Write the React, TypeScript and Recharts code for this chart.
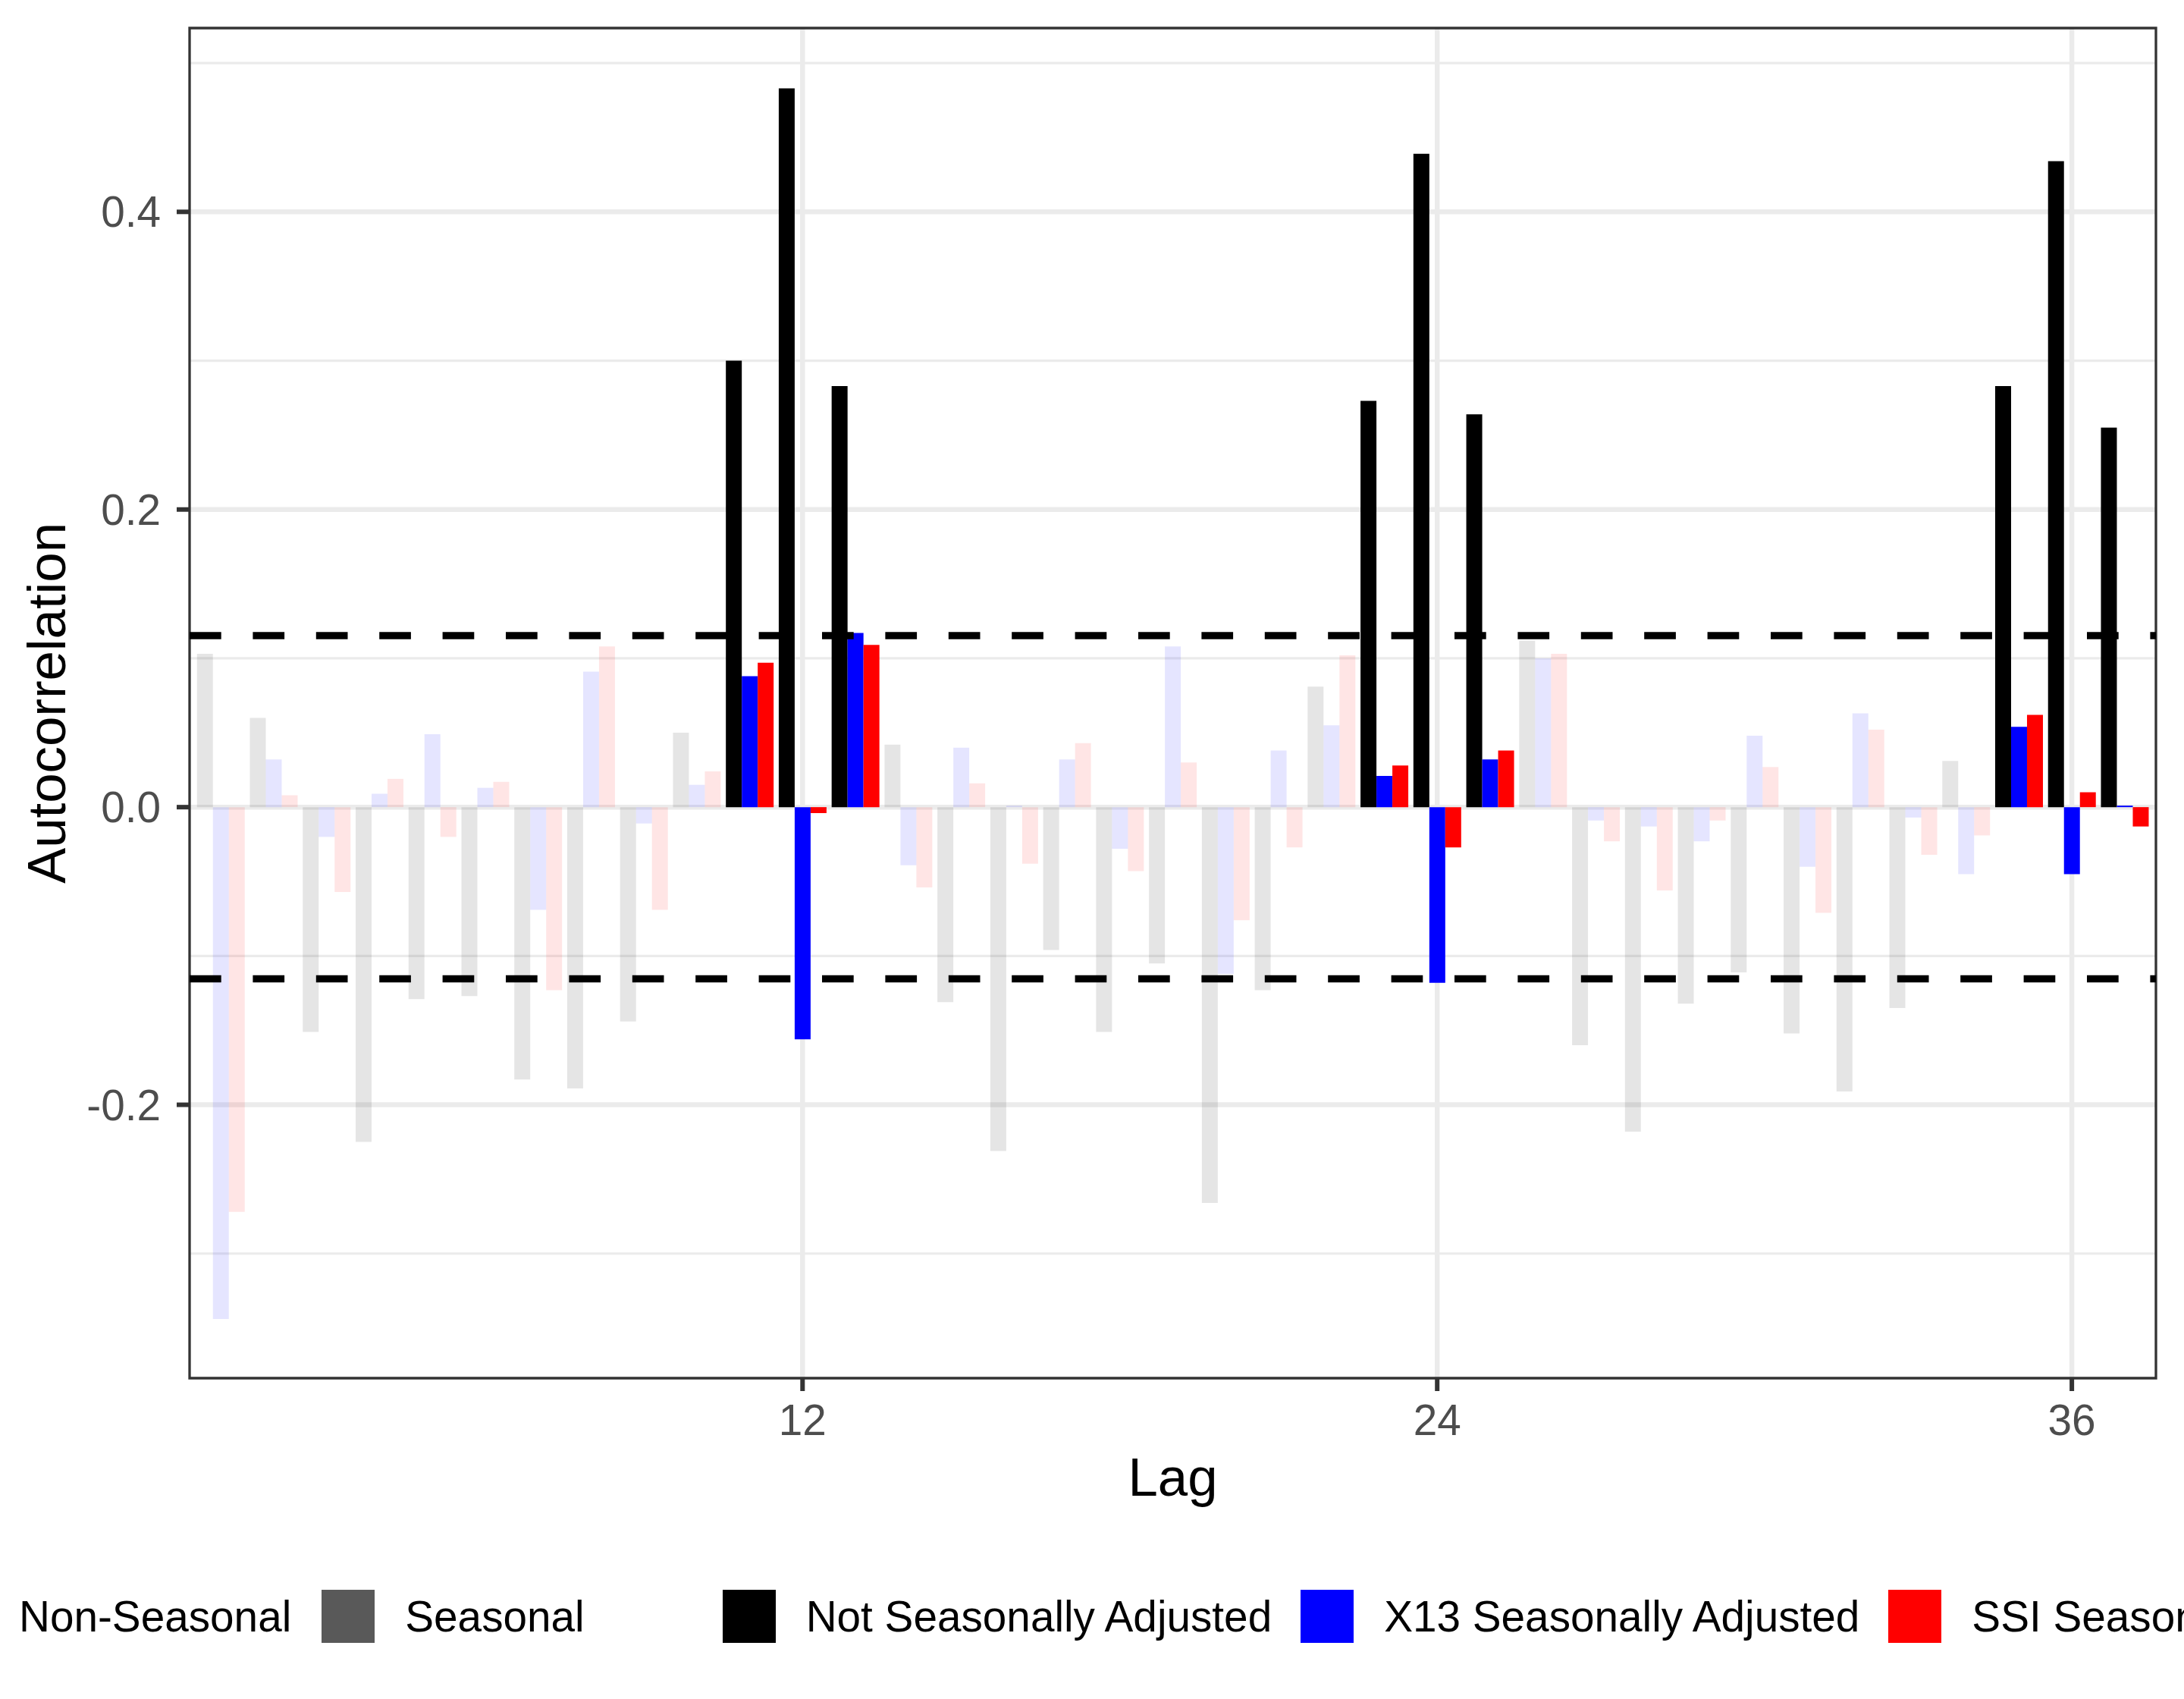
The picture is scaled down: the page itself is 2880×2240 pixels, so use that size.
import {
  Bar,
  BarChart,
  CartesianGrid,
  Cell,
  ReferenceArea,
  ReferenceLine,
  XAxis,
  YAxis,
} from "recharts";

// lags 1..37, three ACF series
const LAGS = [
  1, 2, 3, 4, 5, 6, 7, 8, 9, 10, 11, 12, 13, 14, 15, 16, 17, 18, 19, 20, 21,
  22, 23, 24, 25, 26, 27, 28, 29, 30, 31, 32, 33, 34, 35, 36, 37,
];
const SEASONAL_LAGS = [11, 12, 13, 23, 24, 25, 35, 36, 37];

const NSA = [
  0.103, 0.06, -0.151, -0.225, -0.129, -0.127, -0.183, -0.189, -0.144, 0.05,
  0.3, 0.483, 0.283, 0.042, -0.131, -0.231, -0.096, -0.151, -0.105, -0.266,
  -0.123, 0.081, 0.273, 0.439, 0.264, 0.112, -0.16, -0.218, -0.132, -0.111,
  -0.152, -0.191, -0.135, 0.031, 0.283, 0.434, 0.255,
];
const X13 = [
  -0.344, 0.032, -0.02, 0.009, 0.049, 0.013, -0.069, 0.091, -0.011, 0.015,
  0.088, -0.156, 0.117, -0.039, 0.04, 0.001, 0.032, -0.028, 0.108, -0.112,
  0.038, 0.055, 0.021, -0.118, 0.032, 0.1, -0.009, -0.013, -0.023, 0.048,
  -0.04, 0.063, -0.007, -0.045, 0.054, -0.045, 0.001,
];
const SSI = [
  -0.272, 0.008, -0.057, 0.019, -0.02, 0.017, -0.123, 0.108, -0.069, 0.024,
  0.097, -0.004, 0.109, -0.054, 0.016, -0.038, 0.043, -0.043, 0.03, -0.076,
  -0.027, 0.102, 0.028, -0.027, 0.038, 0.103, -0.023, -0.056, -0.009, 0.027,
  -0.071, 0.052, -0.032, -0.019, 0.062, 0.01, -0.013,
];

const CI = 0.1153;

const SERIES = [
  { key: "nsa", name: "Not Seasonally Adjusted", color: "#000000" },
  { key: "x13", name: "X13 Seasonally Adjusted", color: "#0000ff" },
  { key: "ssi", name: "SSI Seasonally Adjusted", color: "#ff0000" },
];

const X_TICKS = [12, 24, 36];
const Y_TICKS = [-0.2, 0, 0.2, 0.4];
const Y_MINOR = [-0.3, -0.1, 0.1, 0.3, 0.5];
const X_DOMAIN = [0.41, 37.59];
const Y_DOMAIN = [-0.3837, 0.5235];

const FONT = '"Liberation Sans", Arial, Helvetica, sans-serif';
const GRID = "#ebebeb";
const INK = "#333333";

const data = LAGS.map((lag, i) => ({
  lag,
  nsa: NSA[i],
  x13: X13[i],
  ssi: SSI[i],
  seasonal: SEASONAL_LAGS.includes(lag),
}));

function LegendKey({ color, opacity = 1 }: { color: string; opacity?: number }) {
  return (
    <span
      style={{
        display: "inline-block",
        width: 70,
        height: 70,
        background: color,
        opacity,
        marginRight: 40,
        flex: "none",
      }}
    />
  );
}

function LegendLabel({ text, gap }: { text: string; gap: number }) {
  return (
    <span style={{ marginRight: gap, whiteSpace: "nowrap", flex: "none" }}>
      {text}
    </span>
  );
}

// legend is wider than the page (as in the original), so it is clipped at both sides
function ChartLegend() {
  return (
    <div
      style={{
        position: "absolute",
        left: -85,
        top: 2096,
        height: 70,
        display: "flex",
        alignItems: "center",
        fontSize: 56.7,
        color: "#000",
        whiteSpace: "nowrap",
      }}
    >
      <LegendKey color="#595959" opacity={0.1} />
      <LegendLabel text="Non-Seasonal" gap={40} />
      <LegendKey color="#595959" />
      <LegendLabel text="Seasonal" gap={182} />
      {SERIES.map((s) => (
        <span key={s.key} style={{ display: "flex", alignItems: "center" }}>
          <LegendKey color={s.color} />
          <LegendLabel text={s.name} gap={38} />
        </span>
      ))}
    </div>
  );
}

export default function App() {
  return (
    <div
      style={{
        position: "relative",
        width: 2880,
        height: 2240,
        overflow: "hidden",
        background: "#fff",
        fontFamily: FONT,
      }}
    >
      <style>{"body{margin:0}"}</style>
      <BarChart
        width={2880}
        height={2240}
        data={data}
        margin={{ top: 37, right: 37, bottom: 268, left: 0 }}
        barCategoryGap="5%"
        barGap={0}
      >
        <CartesianGrid
          vertical={false}
          horizontalValues={Y_MINOR}
          stroke={GRID}
          strokeWidth={3.2}
        />
        <CartesianGrid
          horizontalValues={Y_TICKS}
          verticalValues={X_TICKS}
          stroke={GRID}
          strokeWidth={6.5}
        />
        <XAxis
          dataKey="lag"
          type="number"
          domain={X_DOMAIN}
          allowDataOverflow
          ticks={X_TICKS}
          interval={0}
          height={155}
          axisLine={false}
          tickSize={17}
          tickMargin={18}
          tickLine={{ stroke: INK, strokeWidth: 6 }}
          tick={{ fontSize: 56.7, fill: "#4d4d4d", fontFamily: FONT }}
          label={{
            value: "Lag",
            position: "insideBottom",
            offset: 0,
            fontSize: 70.8,
            fill: "#000",
            fontFamily: FONT,
          }}
        />
        <YAxis
          type="number"
          domain={Y_DOMAIN}
          allowDataOverflow
          ticks={Y_TICKS}
          interval={0}
          width={250}
          axisLine={false}
          tickSize={17}
          tickMargin={21}
          tickLine={{ stroke: INK, strokeWidth: 6 }}
          tickFormatter={(v: number) => v.toFixed(1)}
          tick={{ fontSize: 56.7, fill: "#4d4d4d", fontFamily: FONT }}
          label={{
            value: "Autocorrelation",
            angle: -90,
            position: "insideLeft",
            offset: 61,
            fontSize: 70.8,
            fill: "#000",
            fontFamily: FONT,
            style: { textAnchor: "middle" },
          }}
        />
        {SERIES.map((s) => (
          <Bar key={s.key} dataKey={s.key} name={s.name} isAnimationActive={false}>
            {data.map((d) => (
              <Cell
                key={d.lag}
                fill={s.color}
                fillOpacity={d.seasonal ? 1 : 0.1}
              />
            ))}
          </Bar>
        ))}
        <ReferenceLine
          y={CI}
          stroke="#000"
          strokeWidth={9.5}
          strokeDasharray="41.7 41.7"
        />
        <ReferenceLine
          y={-CI}
          stroke="#000"
          strokeWidth={9.5}
          strokeDasharray="41.7 41.7"
        />
        <ReferenceArea
          x1={X_DOMAIN[0]}
          x2={X_DOMAIN[1]}
          y1={Y_DOMAIN[0]}
          y2={Y_DOMAIN[1]}
          fill="none"
          stroke={INK}
          strokeWidth={3.3}
          ifOverflow="visible"
        />
      </BarChart>
      <ChartLegend />
    </div>
  );
}
